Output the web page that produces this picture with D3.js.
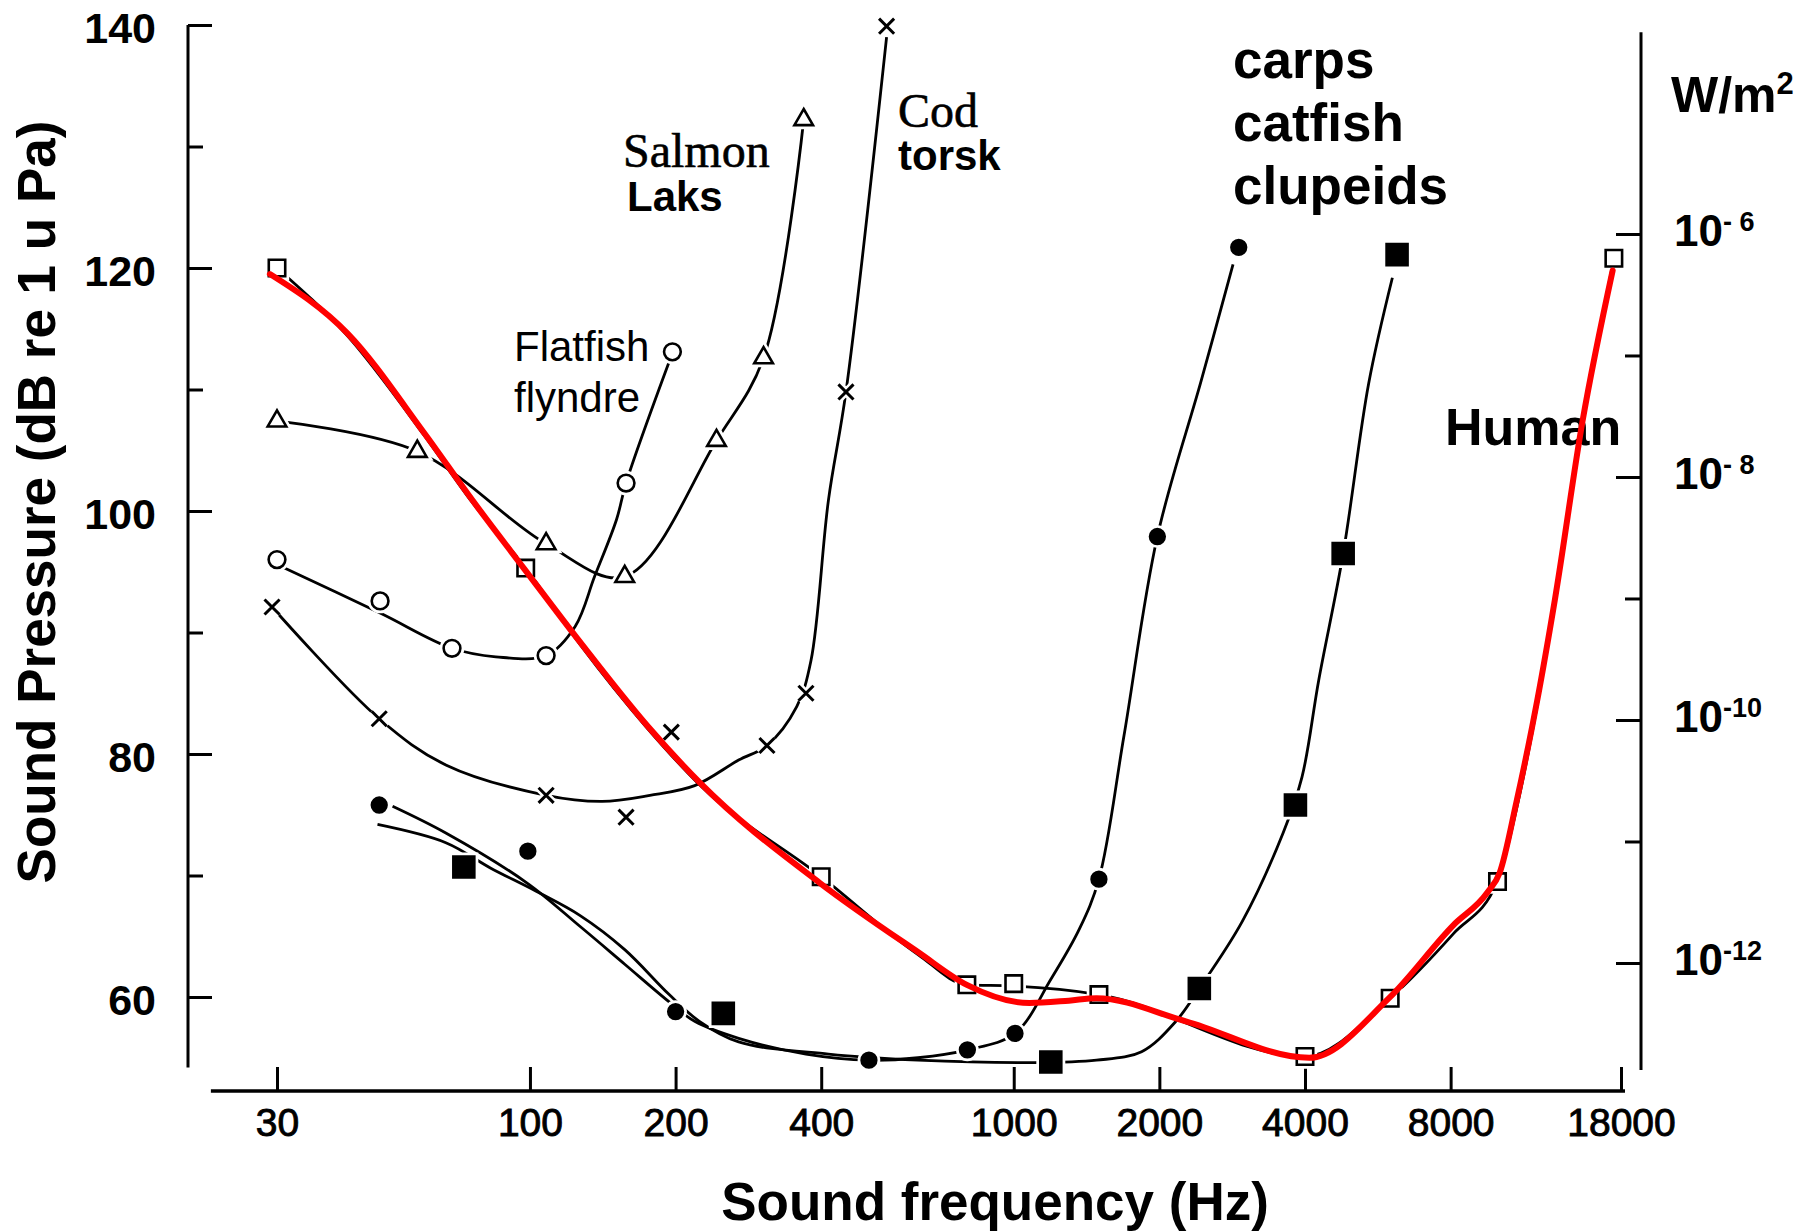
<!DOCTYPE html>
<html>
<head>
<meta charset="utf-8">
<script src="https://cdn.jsdelivr.net/npm/d3@7"></script>
<style>
body { margin: 0; background: #fff; }
svg { display: block; }
</style>
</head>
<body>
<div id="chart"></div>
<script>
// tick values
var xTicks = [30, 100, 200, 400, 1000, 2000, 4000, 8000, 18000]
var yTicks = [60, 80, 100, 120, 140]
var yMinor = [70, 90, 110, 130]
var wTicks = [1e-12, 1e-10, 1e-8, 1e-6]
var wMinor = [1e-11, 1e-9, 1e-7]
var wExp = ['-12', '-10', '- 8', '- 6']

// human (open squares), its black curve and the red redrawn curve
var humanFreq = [30, 98, 400, 800, 1000, 1500, 4000, 6000, 10000, 17400]
var humanDb = [120.0, 95.3, 69.9, 61.0, 61.1, 60.2, 55.1, 59.9, 69.5, 120.8]
var humanLineFreq = [30, 42, 60.5, 76, 98, 127, 175, 225, 400, 634, 800, 1000, 1500, 4000, 6000, 8100, 10000, 10950, 12080, 13140, 14990, 17400]
var humanLineDb = [120.0, 114.4, 106.2, 100.7, 95.3, 89.0, 82.1, 77.4, 69.9, 63.5, 61.0, 60.9, 60.2, 55.1, 59.9, 65.2, 69.5, 75.5, 84.0, 92.5, 107.0, 120.8]
var redFreq = [29, 42, 60.5, 76, 97.5, 127, 175, 225, 397, 634, 800, 1078, 1300, 1483, 2268, 4083, 5980, 8100, 9530, 10100, 10950, 12080, 13140, 14990, 17300]
var redDb = [119.5, 114.6, 106.4, 100.9, 95.2, 89.2, 82.3, 77.6, 69.4, 63.7, 61.0, 59.5, 59.7, 59.9, 58.0, 55.0, 59.95, 65.9, 68.6, 70.2, 76.1, 84.4, 92.7, 107.4, 119.8]

// salmon (open triangles)
var salmonFreq = [30, 58.5, 108, 157, 243, 304, 368]
var salmonDb = [107.4, 104.9, 97.3, 94.6, 105.8, 112.6, 132.2]

// flatfish (open circles)
var flatFreq = [30, 49, 69, 108, 158, 197]
var flatDb = [96.0, 92.6, 88.7, 88.1, 102.3, 113.1]
var flatLineFreq = [30, 49, 69, 85, 108, 124, 136, 151, 158, 197]
var flatLineDb = [95.6, 91.6, 88.7, 88.0, 88.1, 90.5, 94.6, 99.3, 102.3, 113.0]

// cod (crosses)
var codFreq = [29.3, 48.8, 108, 158, 196, 309, 372, 450, 546]
var codDb = [92.1, 82.9, 76.6, 74.8, 81.8, 80.7, 85.0, 109.8, 139.9]
var codLineFreq = [29.3, 48.8, 67, 108, 141, 177, 219, 270, 309, 356, 381, 414, 450, 546]
var codLineDb = [92.1, 82.9, 79.1, 76.6, 76.1, 76.6, 77.4, 79.5, 80.7, 83.9, 87.7, 100.9, 109.8, 139.0]

// carps / catfish / clupeids: filled circles
var otoAFreq = [48.8, 99, 200, 502, 802, 1006, 1500, 1981, 2918]
var otoADb = [75.8, 72.0, 58.8, 54.8, 55.65, 57.0, 69.7, 97.9, 121.7]
var otoALineFreq = [52, 67, 98.5, 127, 157, 194, 219, 270, 372, 502, 634, 802, 1006, 1195, 1367, 1500, 1690, 1981, 2440, 2840]
var otoALineDb = [75.7, 73.5, 69.4, 65.8, 62.7, 59.6, 58.0, 56.6, 55.3, 54.8, 55.0, 55.65, 57.0, 61.5, 65.6, 69.7, 81.5, 97.9, 110.7, 120.3]

// carps / catfish / clupeids: filled squares
var otoBFreq = [73, 251, 1193, 2419, 3822, 4797, 6200]
var otoBDb = [70.7, 58.65, 54.65, 60.7, 75.8, 96.5, 121.1]
var otoBLineFreq = [48.4, 67, 83, 103, 127, 157, 194, 224, 270, 414, 634, 1078, 1483, 1838, 2164, 2419, 2966, 3604, 3943, 4271, 4797, 5416, 6063]
var otoBLineDb = [74.2, 72.7, 70.6, 68.7, 66.7, 63.9, 60.2, 58.0, 56.3, 55.3, 54.8, 54.6, 54.8, 55.5, 58.0, 60.7, 66.2, 73.5, 78.1, 86.1, 96.5, 110.5, 119.2]

var width = 1810,
    height = 1231,
    sans = '"Liberation Sans", Arial, sans-serif',
    narrow = '"Liberation Sans Narrow", "Arial Narrow", sans-serif',
    serif = '"Liberation Serif", "Times New Roman", serif'

var x = d3.scaleLog().domain([30, 18000]).range([277, 1621]),
    y = d3.scaleLinear().domain([60, 140]).range([997, 25]),
    w = d3.scaleLog().domain([1e-12, 1e-6]).range([y(62.8), y(122.8)])

var leftX = 188, rightX = 1641, bottomY = 1091

var svg = d3.select('#chart')
    .append('svg')
    .attr('width', width)
    .attr('height', height)
    .style('background', '#fff')

function pts(f, v) {
    return f.map(function(d, i) { return [d, v[i]] })
}

// ---- axes ----
var axisStyle = function(g) {
    g.select('.domain').remove()
    g.selectAll('.tick line').attr('stroke', '#000').attr('stroke-width', 3)
}

// left (dB)
svg.append('line')
    .attr('x1', leftX).attr('x2', leftX)
    .attr('y1', y(140)).attr('y2', y(54.2))
    .attr('stroke', '#000').attr('stroke-width', 3)

svg.append('g')
    .attr('transform', 'translate(' + leftX + ',0)')
    .call(d3.axisLeft(y).tickValues(yTicks).tickSize(-24).tickPadding(32))
    .call(axisStyle)
    .call(function(g) {
        g.selectAll('.tick text')
            .attr('fill', '#000')
            .attr('dy', '0.4em')
            .style('font-family', sans)
            .style('font-weight', 'bold')
            .style('font-size', '43px')
    })

svg.append('g')
    .attr('transform', 'translate(' + leftX + ',0)')
    .call(d3.axisLeft(y).tickValues(yMinor).tickSize(-15).tickFormat(''))
    .call(axisStyle)

// bottom (Hz)
svg.append('line')
    .attr('x1', x(21.9)).attr('x2', x(18000) + 4)
    .attr('y1', bottomY).attr('y2', bottomY)
    .attr('stroke', '#000').attr('stroke-width', 3.5)

svg.append('g')
    .attr('transform', 'translate(0,' + bottomY + ')')
    .call(d3.axisBottom(x).tickValues(xTicks).tickFormat(d3.format('d')).tickSize(-24).tickPadding(17))
    .call(axisStyle)
    .call(function(g) {
        g.selectAll('.tick text')
            .attr('fill', '#000')
            .attr('stroke', '#000')
            .attr('stroke-width', 0.9)
            .style('font-family', narrow)
            .style('font-size', '39px')
    })

// right (W/m2)
svg.append('line')
    .attr('x1', rightX).attr('x2', rightX)
    .attr('y1', y(139.4)).attr('y2', y(54.0))
    .attr('stroke', '#000').attr('stroke-width', 3)

svg.append('g')
    .attr('transform', 'translate(' + rightX + ',0)')
    .call(d3.axisLeft(w).tickValues(wTicks).tickSize(25).tickFormat(''))
    .call(axisStyle)

svg.append('g')
    .attr('transform', 'translate(' + rightX + ',0)')
    .call(d3.axisLeft(w).tickValues(wMinor).tickSize(16).tickFormat(''))
    .call(axisStyle)

var wLabels = svg.append('g')
    .selectAll('text')
    .data(wTicks)
    .enter()
    .append('text')
    .attr('x', rightX + 33)
    .attr('y', function(d) { return w(d) + 12 })
    .attr('fill', '#000')
    .style('font-family', sans)
    .style('font-weight', 'bold')
    .style('font-size', '44px')

wLabels.append('tspan').text('10')
wLabels.append('tspan')
    .attr('dy', -15)
    .style('font-size', '27px')
    .text(function(d, i) { return wExp[i] })

var unit = svg.append('text')
    .attr('x', 1671)
    .attr('y', 112)
    .attr('fill', '#000')
    .style('font-family', sans)
    .style('font-weight', 'bold')
    .style('font-size', '50px')
unit.append('tspan').text('W/m')
unit.append('tspan').attr('dy', -18).style('font-size', '31px').text('2')

// axis titles
svg.append('text')
    .text('Sound frequency (Hz)')
    .attr('x', 995)
    .attr('y', 1220)
    .attr('text-anchor', 'middle')
    .attr('fill', '#000')
    .style('font-family', sans)
    .style('font-weight', 'bold')
    .style('font-size', '53px')

svg.append('text')
    .text('Sound Pressure (dB re 1 u Pa)')
    .attr('transform', 'translate(55,502) rotate(-90)')
    .attr('text-anchor', 'middle')
    .attr('fill', '#000')
    .style('font-family', sans)
    .style('font-weight', 'bold')
    .style('font-size', '53px')

// ---- curves ----
var smooth = d3.line()
    .x(function(d) { return x(d[0]) })
    .y(function(d) { return y(d[1]) })
    .curve(d3.curveCatmullRom.alpha(0.5))

var mono = d3.line()
    .x(function(d) { return x(d[0]) })
    .y(function(d) { return y(d[1]) })
    .curve(d3.curveMonotoneX)

var curves = [
    { d: pts(salmonFreq, salmonDb), gen: smooth },
    { d: pts(flatLineFreq, flatLineDb), gen: smooth },
    { d: pts(codLineFreq, codLineDb), gen: smooth },
    { d: pts(otoALineFreq, otoALineDb), gen: smooth },
    { d: pts(otoBLineFreq, otoBLineDb), gen: smooth },
    { d: pts(humanLineFreq, humanLineDb), gen: mono }
]

svg.append('g')
    .selectAll('path')
    .data(curves)
    .enter()
    .append('path')
    .attr('d', function(c) { return c.gen(c.d) })
    .attr('fill', 'none')
    .attr('stroke', '#000')
    .attr('stroke-width', 2.8)

// ---- markers ----
function drawMarkers(freq, db, type, size, filled, cross) {
    var sym = d3.symbol().type(type).size(size),
        data = pts(freq, db),
        g = svg.append('g'),
        pos = function(d) { return 'translate(' + x(d[0]) + ',' + y(d[1]) + ')' }

    g.selectAll('path.halo')
        .data(data)
        .enter()
        .append('path')
        .attr('class', 'halo')
        .attr('d', sym)
        .attr('transform', pos)
        .attr('fill', '#fff')
        .attr('stroke', '#fff')
        .attr('stroke-width', 8)

    g.selectAll('path.mk')
        .data(data)
        .enter()
        .append('path')
        .attr('class', 'mk')
        .attr('d', sym)
        .attr('transform', pos)
        .attr('fill', cross ? 'none' : (filled ? '#000' : '#fff'))
        .attr('stroke', '#000')
        .attr('stroke-width', cross ? 3 : 2.6)
}

drawMarkers(salmonFreq, salmonDb, d3.symbolTriangle, 150, false)
drawMarkers(flatFreq, flatDb, d3.symbolCircle, 220, false)
drawMarkers(codFreq, codDb, d3.symbolTimes, 150, false, true)
drawMarkers(otoAFreq, otoADb, d3.symbolCircle, 170, true)
drawMarkers(otoBFreq, otoBDb, d3.symbolSquare, 440, true)
drawMarkers(humanFreq, humanDb, d3.symbolSquare, 270, false)

// ---- labels ----
var labels = [
    { t: 'Salmon', x: 623, y: 167, f: serif, s: 48, b: 'normal' },
    { t: 'Laks', x: 627, y: 211, f: sans, s: 42, b: 'bold' },
    { t: 'Cod', x: 898, y: 127, f: serif, s: 48, b: 'normal' },
    { t: 'torsk', x: 898, y: 170, f: sans, s: 42, b: 'bold' },
    { t: 'Flatfish', x: 514, y: 361, f: sans, s: 42, b: 'normal' },
    { t: 'flyndre', x: 514, y: 412, f: sans, s: 42, b: 'normal' },
    { t: 'carps', x: 1233, y: 78, f: sans, s: 53, b: 'bold' },
    { t: 'catfish', x: 1233, y: 141, f: sans, s: 53, b: 'bold' },
    { t: 'clupeids', x: 1233, y: 204, f: sans, s: 53, b: 'bold' },
    { t: 'Human', x: 1445, y: 445, f: sans, s: 52, b: 'bold' }
]

svg.append('g')
    .selectAll('text')
    .data(labels)
    .enter()
    .append('text')
    .text(function(d) { return d.t })
    .attr('x', function(d) { return d.x })
    .attr('y', function(d) { return d.y })
    .attr('fill', '#000')
    .attr('stroke', function(d) { return d.f === serif ? '#000' : 'none' })
    .attr('stroke-width', 0.6)
    .style('font-family', function(d) { return d.f })
    .style('font-weight', function(d) { return d.b })
    .style('font-size', function(d) { return d.s + 'px' })

// red human curve on top
svg.append('path')
    .attr('d', mono(pts(redFreq, redDb)))
    .attr('fill', 'none')
    .attr('stroke', '#ff0000')
    .attr('stroke-width', 6)
    .attr('stroke-linejoin', 'round')
    .attr('stroke-linecap', 'round')
</script>
</body>
</html>
